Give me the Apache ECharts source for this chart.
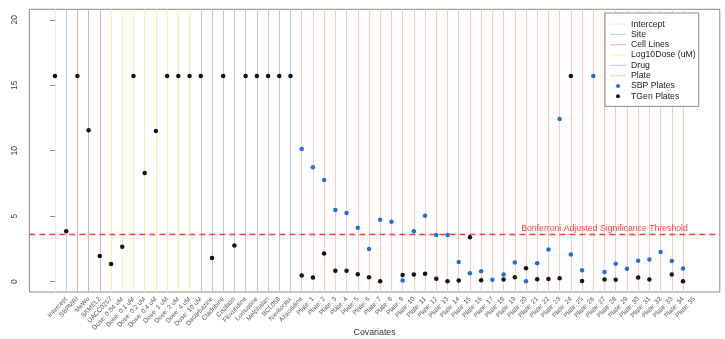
<!DOCTYPE html>
<html><head><meta charset="utf-8">
<script src="https://cdn.jsdelivr.net/npm/echarts@6/dist/echarts.min.js"></script>
<style>html,body{margin:0;padding:0;background:#fff}#c{width:725px;height:339px}</style>
</head><body><div id="c"></div>
<script>
// ---- data ----
const covariates = ['Intercept','SBPMRI','MeWo','SKMEL2','UACC0257',
  'Dose: 0.04 uM','Dose: 0.1 uM','Dose: 0.2 uM','Dose: 0.4 uM','Dose: 1 uM','Dose: 2 uM','Dose: 4 uM','Dose: 10 uM',
  'Dacarbazine','Cladribine','Cisplatin','Floxuridine','Lomustine','Melphalan','BCL058','Navitoclax','Azacitidine'];
const covariateValues = [15.7, 3.85, 15.7, 11.55, 1.95, 1.33, 2.65, 15.7, 8.3, 11.5, 15.7, 15.7, 15.7, 15.7, 1.8, 15.7, 2.75, 15.7, 15.7, 15.7, 15.7, 15.7];
const plates = ['Plate: 1','Plate: 2','Plate: 3','Plate: 4','Plate: 5','Plate: 6','Plate: 7','Plate: 8','Plate: 9','Plate: 10',
  'Plate: 11','Plate: 12','Plate: 13','Plate: 14','Plate: 15','Plate: 16','Plate: 17','Plate: 18','Plate: 19','Plate: 20',
  'Plate: 21','Plate: 22','Plate: 23','Plate: 24','Plate: 25','Plate: 26','Plate: 27','Plate: 28','Plate: 29','Plate: 30',
  'Plate: 31','Plate: 32','Plate: 33','Plate: 34','Plate: 35'];
const sbpPlateValues = [10.12, 8.74, 7.75, 5.46, 5.23, 4.1, 2.48, 4.72, 4.56, 0.08,
  3.85, 5.02, 3.55, 3.55, 1.5, 0.64, 0.79, 0.13, 0.54, 1.45,
  0.03, 1.4, 2.45, 12.42, 2.06, 0.87, 15.7, 0.72, 1.35, 0.97,
  1.58, 1.68, 2.25, 1.56, 0.99];
const tgenPlateValues = [0.46, 0.3, 2.15, 0.82, 0.82, 0.56, 0.32, 0.03, null, 0.5,
  0.54, 0.59, 0.21, 0.03, 0.08, 3.39, 0.1, null, 0.15, 0.33,
  1.02, 0.18, 0.2, 0.26, 15.7, 0.05, null, 0.15, 0.13, null,
  0.31, 0.15, null, 0.54, 0.03];
const groupNames = ['Intercept','Site','Cell Lines','Log10Dose (uM)','Drug','Plate'];
const groupSizes = [1, 1, 3, 8, 9, 35];
const yTicks = [0, 5, 10, 15, 20];
const threshold = 3.62;
const thresholdLabel = 'Bonferroni Adjusted Significance Threshold';
const xTitle = 'Covariates';

// ---- styles ----
const groupColors = ['#e9e9ee','#b6cff2','#d5b0b7','#f3f2a4','#c2c2e9','#f7cbbf'];
const FONT = '"Liberation Sans", Arial, Helvetica, sans-serif';
const LINE_ICON = 'path://M0,0H16V1H0Z';

const labels = covariates.concat(plates);
const xIdx = labels.map((_, i) => i);
const labelIdx = labels.map((_, i) => i + 1);

let start = 0;
const lineSeries = groupNames.map((g, gi) => {
  const idx = [];
  for (let k = 0; k < groupSizes[gi]; k++) idx.push(start + k);
  start += groupSizes[gi];
  return {
    name: g, type: 'line', data: [], symbol: 'none', silent: true, z: 1,
    lineStyle: { color: groupColors[gi], width: 1 },
    itemStyle: { color: groupColors[gi] },
    markLine: {
      silent: true, symbol: 'none', animation: false, z: 1,
      label: { show: false },
      lineStyle: { color: groupColors[gi], width: 1, type: 'solid' },
      data: idx.map(i => ({ xAxis: i }))
    }
  };
});

const blackData = covariateValues.map((v, i) => [i, v])
  .concat(tgenPlateValues.map((v, i) => v == null ? null : [covariates.length + i, v]).filter(d => d));
const blueData = sbpPlateValues.map((v, i) => [covariates.length + i, v]);

const chart = echarts.init(document.getElementById('c'), null, { renderer: 'canvas' });
chart.setOption({
  animation: false,
  backgroundColor: '#fff',
  textStyle: { fontFamily: FONT },
  grid: { left: 29.4, right: 5.2, top: 9.3, bottom: 47, outerBoundsMode: 'none', containLabel: false,
    show: true, borderColor: '#8a8a8a', borderWidth: 1, backgroundColor: 'transparent' },
  xAxis: {
    type: 'value', min: -2.28, max: 59.28,
    splitLine: { show: false },
    axisLine: { show: false },
    axisTick: { show: true, length: 5, lineStyle: { color: '#8a8a8a' }, customValues: xIdx },
    axisLabel: {
      customValues: labelIdx, rotate: 47, margin: 6, fontSize: 6.5, color: '#555', fontFamily: FONT,
      formatter: v => labels[Math.round(v) - 1] || ''
    },
    name: xTitle, nameLocation: 'middle', nameGap: 36, nameMoveOverlap: false,
    nameTextStyle: { fontSize: 8.8, color: '#333', fontFamily: FONT }
  },
  yAxis: {
    type: 'value', min: -0.8, max: 20.8,
    splitLine: { show: false },
    axisLine: { show: false },
    axisTick: { show: true, length: 5, lineStyle: { color: '#8a8a8a' }, customValues: yTicks },
    axisLabel: { customValues: yTicks, rotate: 90, margin: 10, fontSize: 8.5, color: '#444', fontFamily: FONT }
  },
  legend: {
    orient: 'vertical', left: 605, top: 13, z: 20,
    backgroundColor: '#fff', borderColor: '#8a8a8a', borderWidth: 1,
    padding: [6, 3, 5, 5],
    itemWidth: 16, itemHeight: 4, itemGap: 0,
    itemStyle: { borderWidth: 0 },
    textStyle: { fontSize: 8.7, lineHeight: 10.3, color: '#222', fontFamily: FONT },
    data: groupNames.map(g => ({ name: g, icon: LINE_ICON })).concat([
      { name: 'SBP Plates', icon: 'circle' }, { name: 'TGen Plates', icon: 'circle' }]),
    selectedMode: false
  },
  series: lineSeries.concat([
    {
      name: 'threshold', type: 'line', data: [], symbol: 'none', silent: true, z: 3,
      markLine: {
        silent: true, symbol: 'none', animation: false, z: 3,
        lineStyle: { color: '#ff3b3b', width: 1.3, type: [6, 4] },
        label: { show: true, position: 'insideEndTop', formatter: thresholdLabel, color: '#ff3b3b', fontSize: 8.7, fontFamily: FONT, padding: [0, 31, 0, 0], distance: 1 },
        data: [{ yAxis: threshold }]
      }
    },
    { name: 'SBP Plates', type: 'scatter', data: blueData, symbol: 'circle', symbolSize: 4.5, itemStyle: { color: '#1f6ee0', opacity: 1, borderWidth: 0 }, z: 10 },
    { name: 'TGen Plates', type: 'scatter', data: blackData, symbol: 'circle', symbolSize: 4.5, itemStyle: { color: '#141414', opacity: 1, borderWidth: 0 }, z: 10 }
  ])
});
</script></body></html>
